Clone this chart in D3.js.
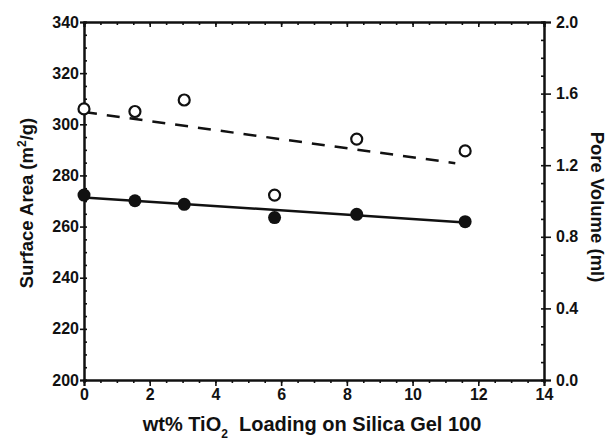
<!DOCTYPE html>
<html>
<head>
<meta charset="utf-8">
<script src="https://cdn.jsdelivr.net/npm/d3@7"></script>
<style>
  body { margin: 0; background: #fff; }
  svg { display: block; }
  text { font-family: "Liberation Sans", Arial, sans-serif; font-weight: bold; fill: #111; }
</style>
</head>
<body>
<script>
// TiO2 loading (wt%)
var loading = [0, 1.55, 3.05, 5.8, 8.3, 11.6];
// open circles (upper series) and filled circles (lower series), read on the left axis
var openValues = [306, 305, 309.5, 272.3, 294.2, 289.6];
var filledValues = [272.3, 270.1, 268.7, 263.5, 264.8, 261.9];
// fitted lines, endpoints
var openFit = [[0, 304.8], [11.3, 284.8]];
var filledFit = [[0, 271.4], [11.6, 261.6]];

var xTicks = [0, 2, 4, 6, 8, 10, 12, 14];
var leftTicks = [200, 220, 240, 260, 280, 300, 320, 340];
var rightTicks = [0.0, 0.4, 0.8, 1.2, 1.6, 2.0];

var width = 609, height = 445;
var svg = d3.select("body").append("svg")
    .attr("width", width)
    .attr("height", height);

var x = d3.scaleLinear().domain([0, 14]).range([84, 544]);
var y = d3.scaleLinear().domain([200, 340]).range([380, 22]);
var y2 = d3.scaleLinear().domain([0, 2]).range([380, 22]);

// minor tick positions
var xMinor = d3.range(0, 14.01, 0.5);
var yMinor = d3.range(200, 340.01, 5);
var y2Minor = d3.range(0, 2.001, 0.1);

function axisLines(g) {
    g.selectAll("path.domain").attr("stroke", "#111").attr("stroke-width", 2);
    g.selectAll("line").attr("stroke", "#111").attr("stroke-width", 1.6);
    g.selectAll("text").attr("font-size", 16);
}

// minor ticks first
svg.append("g").attr("transform", "translate(0,380)")
    .call(d3.axisBottom(x).tickValues(xMinor).tickSize(3).tickFormat(""))
    .call(axisLines);
svg.append("g").attr("transform", "translate(0,22)")
    .call(d3.axisBottom(x).tickValues(xMinor).tickSize(3).tickFormat(""))
    .call(axisLines);
svg.append("g").attr("transform", "translate(84,0)")
    .call(d3.axisRight(y).tickValues(yMinor).tickSize(3).tickFormat(""))
    .call(axisLines);
svg.append("g").attr("transform", "translate(544,0)")
    .call(d3.axisLeft(y2).tickValues(y2Minor).tickSize(3).tickFormat(""))
    .call(axisLines);

// major ticks with labels
svg.append("g").attr("transform", "translate(0,380)")
    .call(d3.axisBottom(x).tickValues(xTicks).tickSize(6).tickPadding(3).tickFormat(d3.format("d")))
    .call(axisLines);
svg.append("g").attr("transform", "translate(0,22)")
    .call(d3.axisBottom(x).tickValues(xTicks).tickSize(5).tickFormat(""))
    .call(axisLines);
svg.append("g").attr("transform", "translate(84,0)")
    .call(d3.axisLeft(y).tickValues(leftTicks).tickSize(4).tickPadding(1).tickFormat(d3.format("d")))
    .call(axisLines);
svg.append("g").attr("transform", "translate(544,0)")
    .call(d3.axisRight(y2).tickValues(rightTicks).tickSize(7).tickPadding(5).tickFormat(d3.format(".1f")))
    .call(axisLines);

// fitted lines
var line = d3.line()
    .x(function (d) { return x(d[0]); })
    .y(function (d) { return y(d[1]); });

svg.append("path")
    .attr("d", line(openFit))
    .attr("fill", "none")
    .attr("stroke", "#111")
    .attr("stroke-width", 2.5)
    .attr("stroke-dasharray", "13,10");

svg.append("path")
    .attr("d", line(filledFit))
    .attr("fill", "none")
    .attr("stroke", "#111")
    .attr("stroke-width", 2.5);

// points
svg.append("g").selectAll("circle")
    .data(loading)
    .join("circle")
    .attr("cx", function (d) { return x(d); })
    .attr("cy", function (d, i) { return y(openValues[i]); })
    .attr("r", 5.5)
    .attr("fill", "#fff")
    .attr("stroke", "#111")
    .attr("stroke-width", 2.2);

svg.append("g").selectAll("circle")
    .data(loading)
    .join("circle")
    .attr("cx", function (d) { return x(d); })
    .attr("cy", function (d, i) { return y(filledValues[i]); })
    .attr("r", 6.5)
    .attr("fill", "#111");

// axis titles
svg.append("text")
    .attr("transform", "translate(33,203) rotate(-90)")
    .attr("text-anchor", "middle")
    .attr("font-size", 18.5)
    .html('Surface Area (m<tspan baseline-shift="super" font-size="12">2</tspan>/g)');

svg.append("text")
    .attr("transform", "translate(591,207) rotate(90)")
    .attr("text-anchor", "middle")
    .attr("font-size", 18.5)
    .text("Pore Volume (ml)");

svg.append("text")
    .attr("x", 312)
    .attr("y", 431)
    .attr("text-anchor", "middle")
    .attr("font-size", 20)
    .attr("xml:space", "preserve")
    .html('wt% TiO<tspan baseline-shift="sub" font-size="12">2</tspan>  Loading on Silica Gel 100');
</script>
</body>
</html>
